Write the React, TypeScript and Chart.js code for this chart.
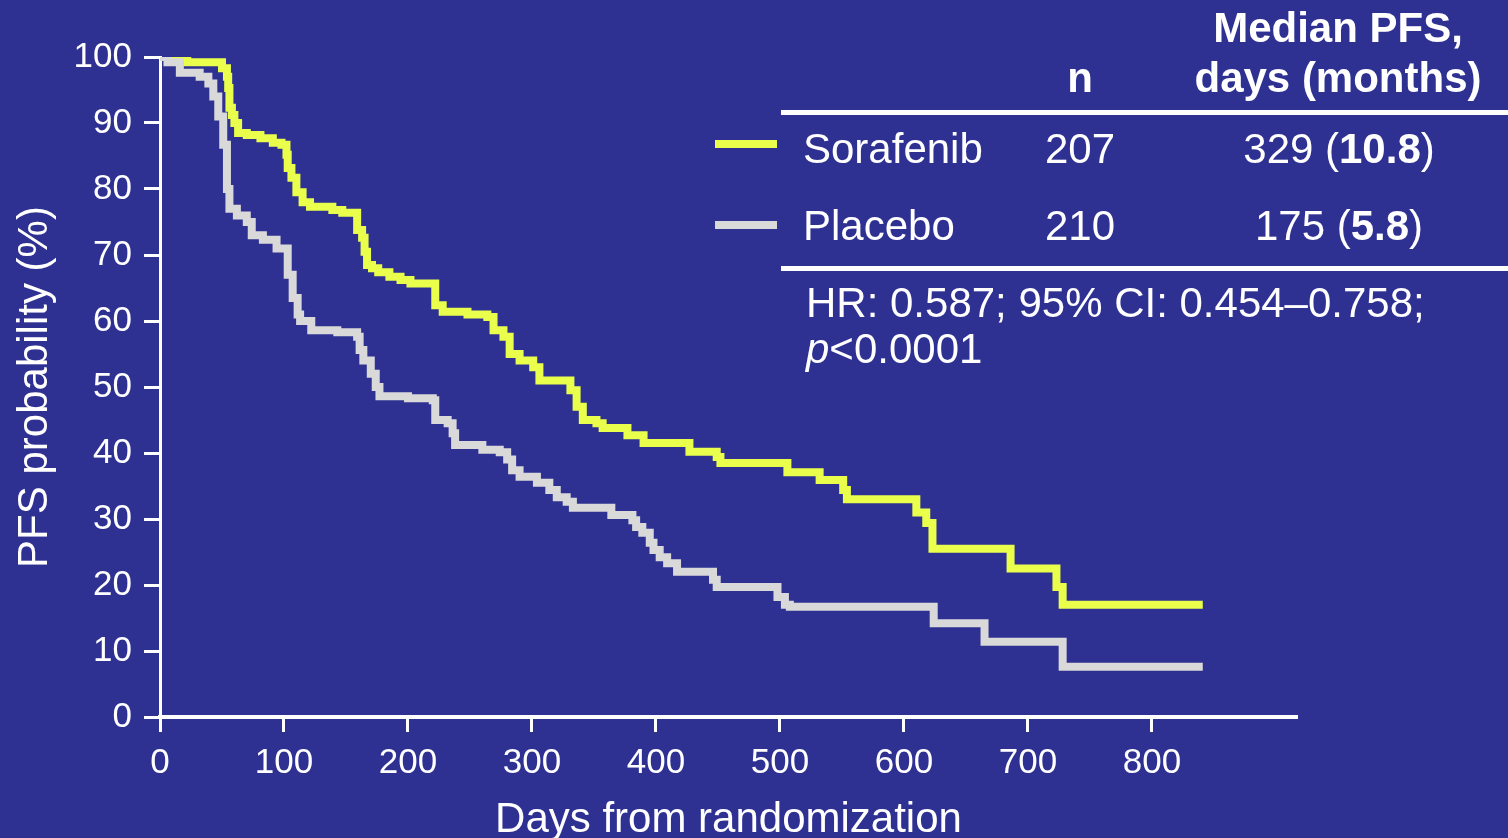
import React, { useEffect, useRef } from "react";
import { Chart, registerables } from "chart.js";

Chart.register(...registerables);

// Kaplan–Meier step data (day of event, PFS % after the event)
const sorafenibDays = [0, 22, 50, 54, 55, 56, 58, 60, 63, 70, 81, 91, 98, 102, 103, 106, 110, 115, 121, 139, 147, 159, 163, 165, 167, 171, 176, 185, 194, 202, 222, 228, 248, 264, 269, 277, 282, 290, 301, 306, 331, 336, 341, 352, 357, 377, 390, 427, 449, 452, 506, 532, 551, 554, 610, 618, 623, 686, 723, 728, 841];
const sorafenibPFS = [100, 99.2, 98.3, 97, 95.3, 92.3, 91.2, 90, 88.5, 88.2, 87.7, 87, 86.7, 85.2, 83.2, 81.7, 79.5, 78, 77.3, 76.8, 76.4, 73.8, 72.6, 70.5, 68.5, 68, 67.4, 66.7, 66.2, 65.7, 62.4, 61.4, 61, 60.6, 58.6, 57.6, 55, 54, 53, 51, 49.5, 47, 45, 44.5, 43.8, 42.7, 41.5, 40.2, 39.4, 38.5, 37.1, 35.9, 34.4, 33, 31, 29.4, 25.5, 22.5, 19.7, 17, 17];

const placeboDays = [0, 6, 16, 32, 39, 43, 47, 51, 54, 56, 62, 70, 74, 83, 94, 103, 107, 111, 113, 122, 143, 159, 161, 164, 170, 174, 177, 200, 220, 222, 232, 236, 238, 260, 274, 280, 284, 290, 304, 314, 320, 328, 333, 364, 381, 384, 389, 395, 398, 403, 409, 417, 446, 449, 498, 504, 508, 624, 665, 728, 841];
const placeboPFS = [100, 99.2, 97.6, 97, 96, 94, 91, 86.7, 80, 77, 76, 75, 73, 72.3, 71, 67, 63.5, 61, 60, 58.6, 58.3, 57.6, 55.6, 54, 52, 50, 48.6, 48.3, 48, 45, 44.5, 43, 41.2, 40.5, 40.1, 39, 37.4, 36.4, 35.5, 34.4, 33.3, 32.6, 31.7, 30.6, 29.8, 28.8, 27.9, 26.4, 25.3, 24.2, 23.3, 22, 20.8, 19.7, 18.2, 17, 16.7, 14.2, 11.4, 7.6, 7.6];

const xTickMax = 800;
const xAxisMax = 917;
const seriesNames = ["Sorafenib", "Placebo"];
const seriesN = ["207", "210"];
const medianDays = ["329", "175"];
const medianMonths = ["10.8", "5.8"];
const statsLine1 = "HR: 0.587; 95% CI: 0.454–0.758;";
const statsLine2 = "<0.0001";

const BG = "#2E3192";
const YELLOW = "#E9FF4B";
const GRAY = "#D9D9D9";
const FONT = '"Liberation Sans", Arial, Helvetica, sans-serif';

const tablePlugin = {
  id: "kmTable",
  beforeDraw(chart: any) {
    const ctx = chart.ctx;
    ctx.save();
    ctx.fillStyle = BG;
    ctx.fillRect(0, 0, chart.width, chart.height);
    ctx.restore();
  },
  afterDraw(chart: any) {
    const ctx = chart.ctx;
    ctx.save();
    ctx.fillStyle = "#fff";
    ctx.textBaseline = "alphabetic";
    // header
    ctx.font = `bold 42px ${FONT}`;
    ctx.textAlign = "center";
    ctx.fillText("Median PFS,", 1338, 42);
    ctx.fillText("days (months)", 1338, 92);
    ctx.fillText("n", 1080, 92);
    // rules
    ctx.fillRect(781, 110, 727, 5);
    ctx.fillRect(781, 266, 727, 5);
    const colors = [YELLOW, GRAY];
    const baselines = [163, 240];
    const lineYs = [144, 225];
    for (let i = 0; i < 2; i++) {
      ctx.fillStyle = colors[i];
      ctx.fillRect(715, lineYs[i] - 4, 62, 8);
      ctx.fillStyle = "#fff";
      ctx.font = `42px ${FONT}`;
      ctx.textAlign = "left";
      ctx.fillText(seriesNames[i], 803, baselines[i]);
      ctx.textAlign = "center";
      ctx.fillText(seriesN[i], 1080, baselines[i]);
      // mixed median text
      const a = medianDays[i] + " (";
      const b = medianMonths[i];
      const c = ")";
      ctx.font = `42px ${FONT}`;
      const wa = ctx.measureText(a).width;
      const wc = ctx.measureText(c).width;
      ctx.font = `bold 42px ${FONT}`;
      const wb = ctx.measureText(b).width;
      const total = wa + wb + wc;
      let x = 1339 - total / 2;
      ctx.textAlign = "left";
      ctx.font = `42px ${FONT}`;
      ctx.fillText(a, x, baselines[i]);
      x += wa;
      ctx.font = `bold 42px ${FONT}`;
      ctx.fillText(b, x, baselines[i]);
      x += wb;
      ctx.font = `42px ${FONT}`;
      ctx.fillText(c, x, baselines[i]);
    }
    ctx.textAlign = "left";
    ctx.font = `42px ${FONT}`;
    ctx.fillText(statsLine1, 806, 317);
    ctx.font = `italic 42px ${FONT}`;
    ctx.fillText("p", 806, 363);
    const wp = ctx.measureText("p").width;
    ctx.font = `42px ${FONT}`;
    ctx.fillText(statsLine2, 806 + wp, 363);
    ctx.restore();
  },
};

export default function App() {
  const ref = useRef<HTMLCanvasElement | null>(null);
  useEffect(() => {
    document.body.style.margin = "0";
    document.body.style.background = BG;
    const canvas = ref.current!;
    const toPts = (d: number[], v: number[]) => d.map((x, i) => ({ x, y: v[i] }));
    const chart = new Chart(canvas, {
      type: "line",
      data: {
        datasets: [
          {
            label: "Placebo",
            data: toPts(placeboDays, placeboPFS),
            borderColor: GRAY,
            borderWidth: 8,
            pointRadius: 0,
            stepped: "before",
            fill: false,
            borderCapStyle: "butt",
            borderJoinStyle: "miter",
          },
          {
            label: "Sorafenib",
            data: toPts(sorafenibDays, sorafenibPFS),
            borderColor: YELLOW,
            borderWidth: 8,
            pointRadius: 0,
            stepped: "before",
            fill: false,
            borderCapStyle: "butt",
            borderJoinStyle: "miter",
          },
        ],
      },
      options: {
        responsive: false,
        animation: false,
        layout: { padding: { top: 57, right: 211, left: 0, bottom: 0 } },
        plugins: { legend: { display: false }, tooltip: { enabled: false } },
        scales: {
          x: {
            type: "linear",
            min: 0,
            max: xAxisMax,
            afterBuildTicks: (scale: any) => {
              scale.ticks = scale.ticks.filter((t: any) => t.value <= xTickMax);
            },
            afterFit: (scale: any) => {
              scale.height = 121;
            },
            ticks: { stepSize: 100, color: "#fff", font: { family: FONT, size: 35 }, padding: 10, maxRotation: 0 },
            grid: { drawOnChartArea: false, drawTicks: true, tickLength: 15, tickWidth: 3, tickColor: "#fff" },
            border: { display: true, color: "#fff", width: 4 },
            title: {
              display: true,
              text: "Days from randomization",
              color: "#fff",
              font: { family: FONT, size: 42, lineHeight: 1.0 },
              padding: { top: 0, bottom: -3 },
            },
          },
          y: {
            type: "linear",
            min: 0,
            max: 100,
            afterFit: (scale: any) => {
              scale.width = 160;
            },
            ticks: { stepSize: 10, color: "#fff", font: { family: FONT, size: 35 }, padding: 12 },
            grid: { drawOnChartArea: false, drawTicks: true, tickLength: 16, tickWidth: 3, tickColor: "#fff" },
            border: { display: true, color: "#fff", width: 3 },
            title: {
              display: true,
              text: "PFS probability (%)",
              color: "#fff",
              font: { family: FONT, size: 42, lineHeight: 1.2 },
              padding: { top: 10, bottom: 0 },
            },
          },
        },
      },
      plugins: [tablePlugin],
    } as any);
    return () => chart.destroy();
  }, []);
  return <canvas ref={ref} width={1508} height={838} style={{ display: "block" }} />;
}
